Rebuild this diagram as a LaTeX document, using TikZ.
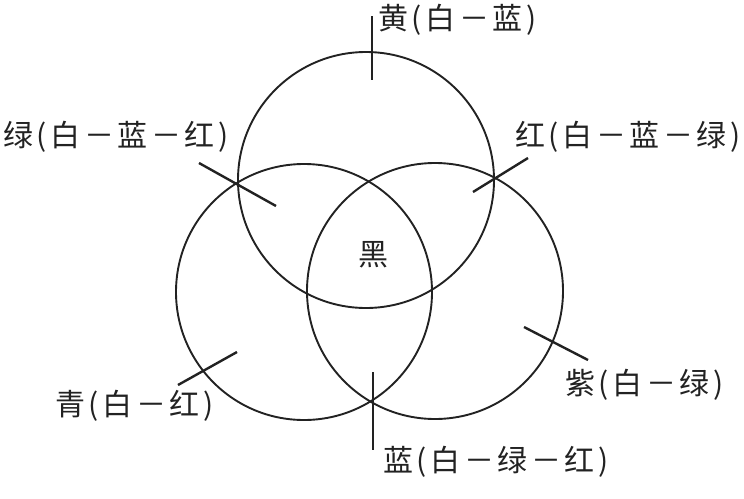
\documentclass[tikz,border=0pt]{standalone}
\usepackage{fontspec}
\newfontfamily\cjk[LetterSpace=12]{Noto Sans CJK SC}
\definecolor{ink}{HTML}{222222}
\begin{document}
\begin{tikzpicture}[x=1pt,y=-1pt,
  ring/.style={circle,draw=ink,line width=1.9pt,minimum size=256pt,inner sep=0pt},
  tick/.style={draw=ink,line width=2.4pt},
  lbl/.style={font=\cjk\fontsize{30}{30}\selectfont,inner sep=0pt,anchor=west,text=ink}]
\useasboundingbox (0,0) rectangle (744,498);
% circles
\node[ring] (top) at (366,180) {};
\node[ring] (left) at (304,292) {};
\node[ring] (right) at (435,291) {};
% labels
\node[lbl] (huang) at (378,20) {黄(白－蓝)};
\node[lbl] (lv) at (3,137) {绿(白－蓝－红)};
\node[lbl] (hong) at (515,137) {红(白－蓝－绿)};
\node[lbl] (qing) at (55,406) {青(白－红)};
\node[lbl] (zi) at (565,385) {紫(白－绿)};
\node[lbl] (lan) at (383,462) {蓝(白－绿－红)};
\node[lbl,anchor=center] (hei) at (373,255) {黑};
% pointer ticks
\coordinate (huangA) at (372,16);  \coordinate (huangB) at (372,80);
\coordinate (lvA) at (199,163);    \coordinate (lvB) at (276,206);
\coordinate (hongA) at (473,192);  \coordinate (hongB) at (528,158);
\coordinate (qingA) at (178,385);  \coordinate (qingB) at (237,352);
\coordinate (ziA) at (524,327);    \coordinate (ziB) at (588,360);
\coordinate (lanA) at (373,372);   \coordinate (lanB) at (373,450);
\draw[tick] (huangA) -- (huangB);
\draw[tick] (lvA) -- (lvB);
\draw[tick] (hongA) -- (hongB);
\draw[tick] (qingA) -- (qingB);
\draw[tick] (ziA) -- (ziB);
\draw[tick] (lanA) -- (lanB);
\end{tikzpicture}
\end{document}
